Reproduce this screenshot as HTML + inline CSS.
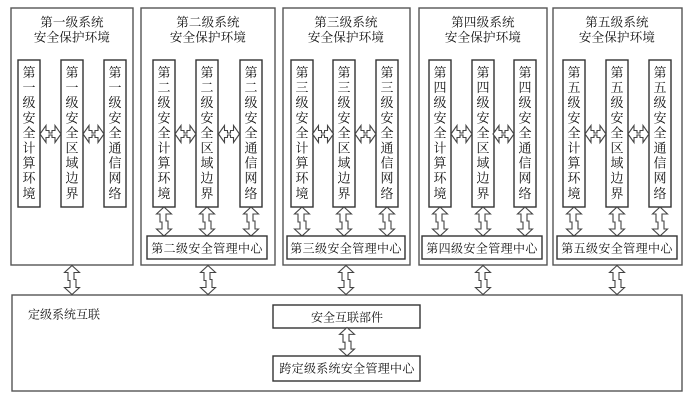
<!DOCTYPE html>
<html><head><meta charset="utf-8"><style>
html,body{margin:0;padding:0;background:#fff;}
svg{display:block;}
text{font-family:"Liberation Serif","Noto Serif CJK SC",serif;fill:#111;}
.t{font-size:12.5px;text-anchor:middle;letter-spacing:0.2px;}
.v{font-size:13px;text-anchor:middle;}
.m{font-size:12px;text-anchor:middle;letter-spacing:0.4px;}
.frame{fill:none;stroke:#555;stroke-width:1.4;}
.box{fill:#fff;stroke:#333;stroke-width:1.4;}
.arr{fill:#fff;stroke:#444;stroke-width:1.1;}
</style></head><body>
<svg width="698" height="402" viewBox="0 0 698 402" xmlns="http://www.w3.org/2000/svg">
<defs>
<path id="va" d="M0,0 L7.5,7 L2,7 L2,14 L4,14 L4,22 L7.5,22 L0,29 L-7.5,22 L-2,22 L-2,15 L-4,15 L-4,7 L-7.5,7 Z"/>
<path id="ha" d="M0,0 L6,-8.5 L6,-3.5 L9,-3.5 L9,-1 L12,-1 L12,-3.5 L15,-3.5 L15,-8.5 L21,0 L15,8.5 L15,3.5 L12,3.5 L12,1 L9,1 L9,3.5 L6,3.5 L6,8.5 Z"/>
</defs>
<rect width="698" height="402" fill="#fff"/>

<!-- outer frames -->
<rect class="frame" x="11" y="8" width="122" height="257"/>
<rect class="frame" x="141" y="8" width="134" height="257"/>
<rect class="frame" x="283" y="8" width="127" height="257"/>
<rect class="frame" x="419" y="8" width="128" height="257"/>
<rect class="frame" x="553" y="8" width="129" height="257"/>
<rect class="frame" x="12" y="295" width="670" height="96"/>

<!-- titles -->
<text class="t" x="72" y="26.7">第一级系统</text><text class="t" x="72" y="41.7">安全保护环境</text>
<text class="t" x="208" y="26.7">第二级系统</text><text class="t" x="208" y="41.7">安全保护环境</text>
<text class="t" x="346" y="26.7">第三级系统</text><text class="t" x="346" y="41.7">安全保护环境</text>
<text class="t" x="483" y="26.7">第四级系统</text><text class="t" x="483" y="41.7">安全保护环境</text>
<text class="t" x="617" y="26.7">第五级系统</text><text class="t" x="617" y="41.7">安全保护环境</text>

<!-- columns -->
<rect class="box" x="18" y="60" width="22" height="147"/>
<rect class="box" x="61" y="60" width="22" height="147"/>
<rect class="box" x="104" y="60" width="22" height="147"/>
<rect class="box" x="153" y="60" width="22" height="147"/>
<rect class="box" x="196" y="60" width="22" height="147"/>
<rect class="box" x="240" y="60" width="22" height="147"/>
<rect class="box" x="291" y="60" width="22" height="147"/>
<rect class="box" x="333" y="60" width="22" height="147"/>
<rect class="box" x="376" y="60" width="22" height="147"/>
<rect class="box" x="429" y="60" width="22" height="147"/>
<rect class="box" x="472" y="60" width="22" height="147"/>
<rect class="box" x="514" y="60" width="22" height="147"/>
<rect class="box" x="563" y="60" width="22" height="147"/>
<rect class="box" x="606" y="60" width="22" height="147"/>
<rect class="box" x="649" y="60" width="22" height="147"/>

<!-- column text -->
<text class="v" x="29 29 29 29 29 29 29 29 29" y="77 92.1 107.2 122.3 137.4 152.5 167.6 182.7 197.8">第一级安全计算环境</text>
<text class="v" x="72 72 72 72 72 72 72 72 72" y="77 92.1 107.2 122.3 137.4 152.5 167.6 182.7 197.8">第一级安全区域边界</text>
<text class="v" x="115 115 115 115 115 115 115 115 115" y="77 92.1 107.2 122.3 137.4 152.5 167.6 182.7 197.8">第一级安全通信网络</text>

<text class="v" x="164 164 164 164 164 164 164 164 164" y="77 92.1 107.2 122.3 137.4 152.5 167.6 182.7 197.8">第二级安全计算环境</text>
<text class="v" x="207 207 207 207 207 207 207 207 207" y="77 92.1 107.2 122.3 137.4 152.5 167.6 182.7 197.8">第二级安全区域边界</text>
<text class="v" x="251 251 251 251 251 251 251 251 251" y="77 92.1 107.2 122.3 137.4 152.5 167.6 182.7 197.8">第二级安全通信网络</text>

<text class="v" x="302 302 302 302 302 302 302 302 302" y="77 92.1 107.2 122.3 137.4 152.5 167.6 182.7 197.8">第三级安全计算环境</text>
<text class="v" x="344 344 344 344 344 344 344 344 344" y="77 92.1 107.2 122.3 137.4 152.5 167.6 182.7 197.8">第三级安全区域边界</text>
<text class="v" x="387 387 387 387 387 387 387 387 387" y="77 92.1 107.2 122.3 137.4 152.5 167.6 182.7 197.8">第三级安全通信网络</text>

<text class="v" x="440 440 440 440 440 440 440 440 440" y="77 92.1 107.2 122.3 137.4 152.5 167.6 182.7 197.8">第四级安全计算环境</text>
<text class="v" x="483 483 483 483 483 483 483 483 483" y="77 92.1 107.2 122.3 137.4 152.5 167.6 182.7 197.8">第四级安全区域边界</text>
<text class="v" x="525 525 525 525 525 525 525 525 525" y="77 92.1 107.2 122.3 137.4 152.5 167.6 182.7 197.8">第四级安全通信网络</text>

<text class="v" x="574 574 574 574 574 574 574 574 574" y="77 92.1 107.2 122.3 137.4 152.5 167.6 182.7 197.8">第五级安全计算环境</text>
<text class="v" x="617 617 617 617 617 617 617 617 617" y="77 92.1 107.2 122.3 137.4 152.5 167.6 182.7 197.8">第五级安全区域边界</text>
<text class="v" x="660 660 660 660 660 660 660 660 660" y="77 92.1 107.2 122.3 137.4 152.5 167.6 182.7 197.8">第五级安全通信网络</text>

<!-- horizontal arrows -->
<use href="#ha" class="arr" transform="translate(40,134)"/>
<use href="#ha" class="arr" transform="translate(83,134)"/>
<use href="#ha" class="arr" transform="translate(175,134)"/>
<use href="#ha" class="arr" transform="translate(218.5,134)"/>
<use href="#ha" class="arr" transform="translate(312.5,134)"/>
<use href="#ha" class="arr" transform="translate(355,134)"/>
<use href="#ha" class="arr" transform="translate(451,134)"/>
<use href="#ha" class="arr" transform="translate(493,134)"/>
<use href="#ha" class="arr" transform="translate(585,134)"/>
<use href="#ha" class="arr" transform="translate(628,134)"/>

<!-- column to mgmt arrows -->
<use href="#va" class="arr" transform="translate(164,207)"/>
<use href="#va" class="arr" transform="translate(207,207)"/>
<use href="#va" class="arr" transform="translate(251,207)"/>
<use href="#va" class="arr" transform="translate(302,207)"/>
<use href="#va" class="arr" transform="translate(344,207)"/>
<use href="#va" class="arr" transform="translate(387,207)"/>
<use href="#va" class="arr" transform="translate(440,207)"/>
<use href="#va" class="arr" transform="translate(483,207)"/>
<use href="#va" class="arr" transform="translate(525,207)"/>
<use href="#va" class="arr" transform="translate(574,207)"/>
<use href="#va" class="arr" transform="translate(617,207)"/>
<use href="#va" class="arr" transform="translate(660,207)"/>

<!-- mgmt boxes -->
<rect class="box" x="147" y="236" width="120" height="23"/>
<rect class="box" x="287" y="236" width="118" height="23"/>
<rect class="box" x="422" y="236" width="120" height="23"/>
<rect class="box" x="557" y="236" width="120" height="23"/>
<text class="m" x="207" y="252.5">第二级安全管理中心</text>
<text class="m" x="346" y="252.5">第三级安全管理中心</text>
<text class="m" x="482" y="252.5">第四级安全管理中心</text>
<text class="m" x="617" y="252.5">第五级安全管理中心</text>

<!-- arrows to bottom frame -->
<use href="#va" class="arr" transform="translate(72,265.5)"/>
<use href="#va" class="arr" transform="translate(208,265.5)"/>
<use href="#va" class="arr" transform="translate(346,265.5)"/>
<use href="#va" class="arr" transform="translate(483,265.5)"/>
<use href="#va" class="arr" transform="translate(617,265.5)"/>

<!-- bottom section -->
<text class="m" x="28" y="318.5" style="text-anchor:start;letter-spacing:0">定级系统互联</text>
<rect class="box" x="273" y="305" width="147" height="23"/>
<text class="m" x="347" y="321.5" style="letter-spacing:0">安全互联部件</text>
<use href="#va" class="arr" transform="translate(347,327.5) scale(1,0.98)"/>
<rect class="box" x="273" y="356" width="147" height="25"/>
<text class="m" x="347" y="372.5" style="letter-spacing:0.3px">跨定级系统安全管理中心</text>
</svg>
</body></html>
